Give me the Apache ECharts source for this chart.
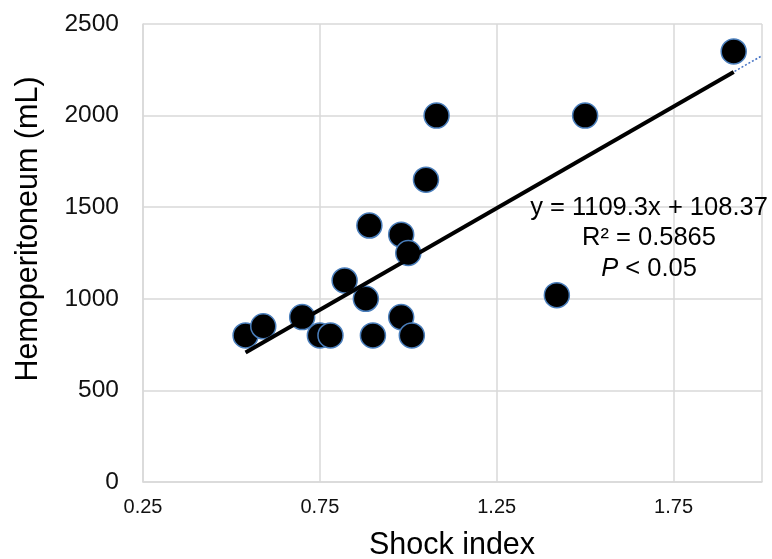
<!DOCTYPE html>
<html>
<head>
<meta charset="utf-8">
<script src="https://cdn.jsdelivr.net/npm/echarts@6/dist/echarts.min.js"></script>
<style>
  html, body { margin: 0; padding: 0; background: #fff; }
  #chart { width: 772px; height: 559px; }
</style>
</head>
<body>
<div id="chart"></div>
<script>
// 读图得到的数据
var shockIndex = [0.54, 0.59, 0.70, 0.75, 0.78, 0.82, 0.88, 0.89, 0.90, 0.98, 0.98, 1.00, 1.01, 1.05, 1.08, 1.42, 1.50, 1.92];
var hemoperitoneum = [800, 850, 900, 800, 800, 1100, 1000, 1400, 800, 900, 1350, 1250, 800, 1650, 2000, 1020, 2000, 2350];
var xTicks = [0.25, 0.75, 1.25, 1.75];
var yTicks = [0, 500, 1000, 1500, 2000, 2500];

// 趋势线 y = 1109.3x + 108.37
var slope = 1109.3;
var intercept = 108.37;
var rSquared = '0.5865';

var points = shockIndex.map(function (x, i) { return [x, hemoperitoneum[i]]; });
var xMin = Math.min.apply(null, shockIndex);
var xMax = Math.max.apply(null, shockIndex);
var xEnd = 2.0;
var fitLine = [[xMin, slope * xMin + intercept], [xMax, slope * xMax + intercept]];
var fitDotted = [[xMin, slope * xMin + intercept], [xEnd, slope * xEnd + intercept]];

var font = 'Liberation Sans, Arial, sans-serif';
var myChart = echarts.init(document.getElementById('chart'));

var option = {
    backgroundColor: '#fff',
    animation: false,
    grid: { left: 143, right: 10, top: 24, bottom: 77 },
    xAxis: {
        type: 'value',
        min: 0.25,
        max: xEnd,
        interval: 0.5,
        axisLine: { lineStyle: { color: '#d9d9d9', width: 1.5 } },
        axisTick: { show: false },
        splitLine: { lineStyle: { color: '#d9d9d9', width: 1.5 } },
        axisLabel: {
            margin: 15,
            fontSize: 20,
            color: '#111',
            fontFamily: font,
            showMaxLabel: false,
            formatter: function (v) {
                for (var i = 0; i < xTicks.length; i++) {
                    if (Math.abs(xTicks[i] - v) < 1e-6) return xTicks[i].toFixed(2);
                }
                return '';
            }
        }
    },
    yAxis: {
        type: 'value',
        min: yTicks[0],
        max: yTicks[yTicks.length - 1],
        interval: 500,
        axisLine: { show: true, lineStyle: { color: '#d9d9d9', width: 1.5 } },
        axisTick: { show: false },
        splitLine: { lineStyle: { color: '#d9d9d9', width: 1.5 } },
        axisLabel: {
            margin: 24,
            fontSize: 24.5,
            color: '#111',
            fontFamily: font,
            formatter: function (v) { return String(v); }
        }
    },
    series: [
        {
            type: 'scatter',
            data: points,
            symbolSize: 25,
            itemStyle: { color: '#000', borderColor: '#4a7ebb', borderWidth: 1.5, opacity: 1 },
            z: 2
        },
        {
            type: 'line',
            data: fitDotted,
            symbol: 'none',
            lineStyle: { color: '#4472c4', width: 1.5, type: [2, 2] },
            z: 3
        },
        {
            type: 'line',
            data: fitLine,
            symbol: 'none',
            lineStyle: { color: '#000', width: 4 },
            z: 4
        }
    ],
    graphic: [
        {
            type: 'text',
            x: 29, y: 229,
            rotation: Math.PI / 2,
            style: {
                text: 'Hemoperitoneum (mL)',
                font: '30.5px ' + font,
                fill: '#000',
                textAlign: 'center',
                textVerticalAlign: 'middle'
            }
        },
        {
            type: 'text',
            x: 452, y: 546,
            style: {
                text: 'Shock index',
                font: '30.5px ' + font,
                fill: '#000',
                textAlign: 'center',
                textVerticalAlign: 'middle'
            }
        },
        {
            type: 'text',
            x: 649, y: 238,
            z: 10,
            style: {
                text: 'y = ' + slope + 'x + ' + intercept + '\nR² = ' + rSquared + '\n{i|P} < 0.05',
                font: '25.5px ' + font,
                fill: '#000',
                lineHeight: 30.5,
                textAlign: 'center',
                textVerticalAlign: 'middle',
                rich: { i: { fontStyle: 'italic', fontSize: 25.5, fontFamily: font } }
            }
        }
    ]
};

myChart.setOption(option);
</script>
</body>
</html>
